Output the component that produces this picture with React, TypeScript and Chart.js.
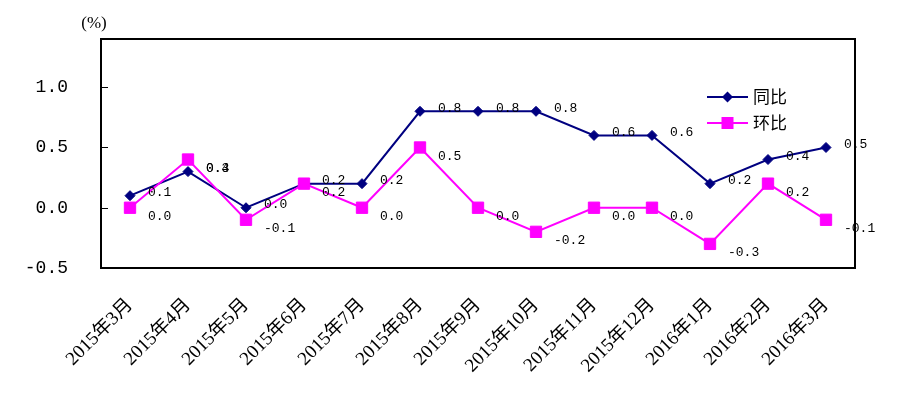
import React, { useEffect, useRef } from "react";
import { Chart, registerables } from "chart.js";

Chart.register(...registerables);

const categories = [
  "2015年3月", "2015年4月", "2015年5月", "2015年6月", "2015年7月", "2015年8月",
  "2015年9月", "2015年10月", "2015年11月", "2015年12月", "2016年1月", "2016年2月", "2016年3月",
];
const seriesNames = ["同比", "环比"];
const yoyValues = [0.1, 0.3, 0.0, 0.2, 0.2, 0.8, 0.8, 0.8, 0.6, 0.6, 0.2, 0.4, 0.5];
const momValues = [0.0, 0.4, -0.1, 0.2, 0.0, 0.5, 0.0, -0.2, 0.0, 0.0, -0.3, 0.2, -0.1];
const yMin = -0.5;
const yMax = 1.4;
const yStep = 0.5;
const unitLabel = "(%)";

const NAVY = "#000080";
const MAGENTA = "#FF00FF";

const decor = {
  id: "decor",
  beforeDatasetsDraw(chart: any) {
    const { ctx, chartArea: a, scales } = chart;
    ctx.save();
    ctx.strokeStyle = "#000";
    ctx.lineWidth = 2;
    ctx.strokeRect(a.left, a.top, a.right - a.left, a.bottom - a.top);
    const ys = scales.y;
    ctx.lineWidth = 1;
    ys.ticks.forEach((t: any) => {
      const py = Math.round(ys.getPixelForValue(t.value)) + 0.5;
      ctx.beginPath();
      ctx.moveTo(a.left, py);
      ctx.lineTo(a.left + 7, py);
      ctx.stroke();
    });
    ctx.restore();
  },
  afterDatasetsDraw(chart: any) {
    const { ctx, chartArea: a } = chart;
    ctx.save();
    // data labels
    ctx.font = '13px "Liberation Mono", monospace';
    ctx.fillStyle = "#000";
    ctx.textAlign = "left";
    ctx.textBaseline = "middle";
    const offsets = [-3, 9];
    chart.data.datasets.forEach((ds: any, di: number) => {
      const meta = chart.getDatasetMeta(di);
      meta.data.forEach((pt: any, i: number) => {
        ctx.fillText(Number(ds.data[i]).toFixed(1), pt.x + 18, pt.y + offsets[di]);
      });
    });
    // legend
    const lx0 = a.right - 148;
    const lx1 = a.right - 107;
    const ly = [a.top + 58, a.top + 84];
    chart.data.datasets.forEach((ds: any, di: number) => {
      const y = ly[di];
      ctx.strokeStyle = ds.borderColor;
      ctx.lineWidth = 2;
      ctx.beginPath();
      ctx.moveTo(lx0, y);
      ctx.lineTo(lx1, y);
      ctx.stroke();
      const cx = (lx0 + lx1) / 2;
      ctx.fillStyle = ds.backgroundColor;
      ctx.beginPath();
      if (ds.pointStyle === "rectRot") {
        const r = 5.5;
        ctx.moveTo(cx, y - r);
        ctx.lineTo(cx + r, y);
        ctx.lineTo(cx, y + r);
        ctx.lineTo(cx - r, y);
        ctx.closePath();
      } else {
        ctx.rect(cx - 6, y - 6, 12, 12);
      }
      ctx.fill();
      ctx.fillStyle = "#000";
      ctx.font = '17px "Noto Sans CJK SC", sans-serif';
      ctx.textAlign = "left";
      ctx.textBaseline = "middle";
      ctx.fillText(ds.label, lx1 + 5, y);
    });
    // unit
    ctx.font = '17px "Liberation Serif", serif';
    ctx.textAlign = "center";
    ctx.textBaseline = "middle";
    ctx.fillText(unitLabel, a.left - 7, a.top - 15);
    ctx.restore();
  },
};

export default function App() {
  const ref = useRef<HTMLCanvasElement | null>(null);
  useEffect(() => {
    document.body.style.margin = "0";
    const canvas = ref.current;
    if (!canvas) return;
    const chart = new Chart(canvas, {
      type: "line",
      data: {
        labels: categories,
        datasets: [
          {
            label: seriesNames[0],
            data: yoyValues,
            borderColor: NAVY,
            backgroundColor: NAVY,
            borderWidth: 2,
            pointStyle: "rectRot",
            pointRadius: 5,
            pointBorderWidth: 1,
            tension: 0,
            order: 1,
          },
          {
            label: seriesNames[1],
            data: momValues,
            borderColor: MAGENTA,
            backgroundColor: MAGENTA,
            borderWidth: 2,
            pointStyle: "rect",
            pointRadius: 8,
            pointBorderWidth: 1,
            tension: 0,
            order: 0,
          },
        ],
      },
      options: {
        animation: false,
        responsive: true,
        maintainAspectRatio: false,
        layout: { padding: { top: 39, right: 45, left: 0, bottom: 0 } },
        plugins: {
          legend: { display: false },
          tooltip: { enabled: false },
        },
        scales: {
          x: {
            offset: true,
            grid: { display: false, drawTicks: true, tickLength: 22 },
            border: { display: false },
            ticks: {
              autoSkip: false,
              minRotation: 45,
              maxRotation: 45,
              padding: 4,
              color: "#000",
              font: { family: '"Liberation Serif", "Noto Sans CJK SC", serif', size: 19 },
            },
            afterFit: (s: any) => {
              s.height = 125;
            },
          },
          y: {
            min: yMin,
            max: yMax,
            grid: { display: false, drawTicks: true, tickLength: 30 },
            border: { display: false },
            ticks: {
              stepSize: yStep,
              includeBounds: false,
              padding: 3,
              color: "#000",
              font: { family: '"Liberation Mono", monospace', size: 18 },
              callback: (v: any) => Number(v).toFixed(1),
            },
            afterFit: (s: any) => {
              s.width = 101;
            },
          },
        },
      },
      plugins: [decor],
    });
    return () => chart.destroy();
  }, []);
  return (
    <div style={{ width: 900, height: 393, position: "relative" }}>
      <canvas ref={ref} />
    </div>
  );
}
